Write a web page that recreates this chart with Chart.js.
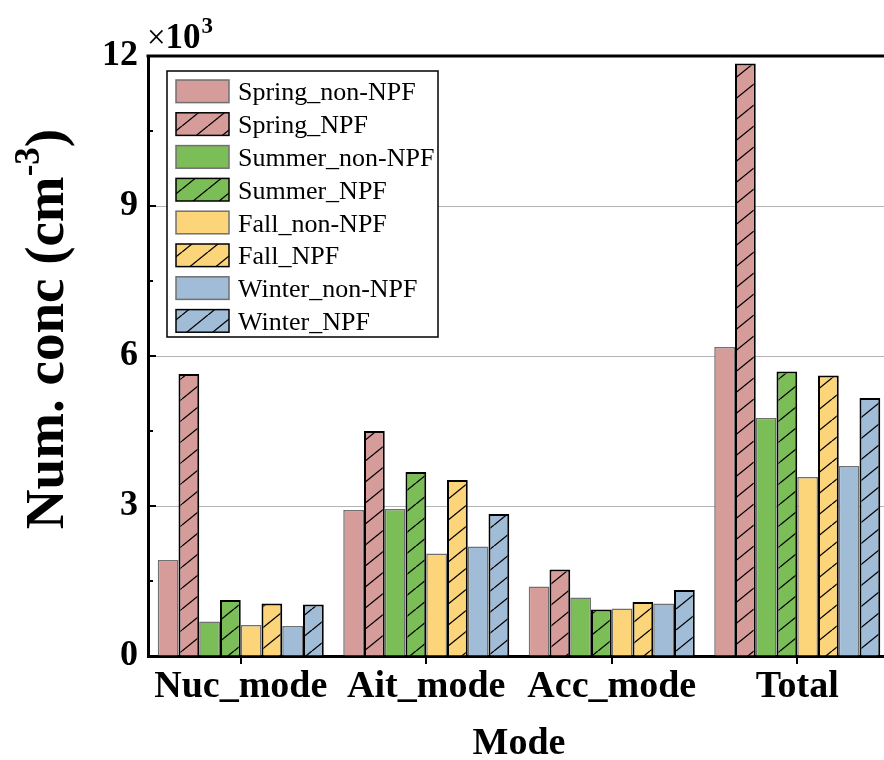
<!DOCTYPE html>
<html>
<head>
<meta charset="utf-8">
<script src="https://cdn.jsdelivr.net/npm/chart.js@4/dist/chart.umd.min.js"></script>
<style>
html,body{margin:0;padding:0;background:#fff;overflow:hidden;width:884px;height:760px}
canvas{display:block}
</style>
</head>
<body>
<canvas id="c" width="896" height="760"></canvas>
<script>
// ---- data (values in units of 10^3 cm^-3) ----
const categories = ['Nuc_mode', 'Ait_mode', 'Acc_mode', 'Total'];
const seriesNames = ['Spring_non-NPF', 'Spring_NPF', 'Summer_non-NPF', 'Summer_NPF',
                     'Fall_non-NPF', 'Fall_NPF', 'Winter_non-NPF', 'Winter_NPF'];
const springNonNPF = [1.92, 2.92, 1.39, 6.18];
const springNPF    = [5.64, 4.50, 1.73, 11.85];
const summerNonNPF = [0.69, 2.94, 1.17, 4.76];
const summerNPF    = [1.12, 3.68, 0.93, 5.69];
const fallNonNPF   = [0.62, 2.05, 0.95, 3.58];
const fallNPF      = [1.05, 3.52, 1.08, 5.61];
const winterNonNPF = [0.60, 2.19, 1.05, 3.80];
const winterNPF    = [1.03, 2.84, 1.32, 5.16];
const yTickValues  = [0, 3, 6, 9, 12];
const xTitle = 'Mode';

const seriesValues = [springNonNPF, springNPF, summerNonNPF, summerNPF,
                      fallNonNPF, fallNPF, winterNonNPF, winterNPF];
const seasonColors = ['#D69C9A', '#7BBE58', '#FCD57B', '#A1BCD7'];

function makeHatch(color) {
  const w = 26, h = 21;
  const c = document.createElement('canvas');
  c.width = w; c.height = h;
  const g = c.getContext('2d');
  g.fillStyle = color;
  g.fillRect(0, 0, w, h);
  g.strokeStyle = '#000';
  g.lineWidth = 1.3;
  for (const dx of [-w, 0, w]) {
    g.beginPath();
    g.moveTo(dx, h);
    g.lineTo(dx + w, 0);
    g.stroke();
  }
  return g.createPattern(c, 'repeat');
}

const datasets = seriesNames.map((name, i) => {
  const color = seasonColors[Math.floor(i / 2)];
  const hatched = i % 2 === 1;
  return {
    label: name,
    data: seriesValues[i],
    backgroundColor: hatched ? makeHatch(color) : color,
    borderColor: hatched ? '#000' : '#707070',
    borderWidth: hatched ? 2 : 1.5,
    borderSkipped: 'bottom'
  };
});

const SERIF = '"Liberation Serif", "Times New Roman", serif';

const decorPlugin = {
  id: 'decor',
  afterDraw(chart) {
    const ctx = chart.ctx;
    const a = chart.chartArea;
    const y = chart.scales.y;
    ctx.save();
    // top border
    ctx.strokeStyle = '#000';
    ctx.lineWidth = 3;
    ctx.beginPath();
    ctx.moveTo(a.left - 1.5, a.top);
    ctx.lineTo(chart.width, a.top);
    ctx.stroke();
    // inward ticks on left axis (major + minor)
    ctx.lineWidth = 2;
    for (let v = 0; v <= 12; v += 1.5) {
      const py = Math.round(y.getPixelForValue(v));
      const major = yTickValues.includes(v);
      ctx.beginPath();
      ctx.moveTo(a.left, py);
      ctx.lineTo(a.left + (major ? 8 : 5), py);
      ctx.stroke();
    }
    // x10^3 multiplier
    ctx.fillStyle = '#000';
    ctx.textBaseline = 'alphabetic';
    ctx.textAlign = 'left';
    let x = 147;
    ctx.font = '33px ' + SERIF;
    ctx.fillText('\u00D7', x, 48);
    x += ctx.measureText('\u00D7').width;
    ctx.font = 'bold 35px ' + SERIF;
    ctx.fillText('10', x, 48);
    x += ctx.measureText('10').width;
    ctx.font = 'bold 23px ' + SERIF;
    ctx.fillText('3', x + 1, 33);

    // y-axis title with superscript
    const parts = [
      {t: 'Num. conc (cm', f: 'bold 55px ' + SERIF, dy: 0},
      {t: '-3', f: 'bold 35px ' + SERIF, dy: -24},
      {t: ')', f: 'bold 55px ' + SERIF, dy: 0}
    ];
    let total = 0;
    for (const p of parts) { ctx.font = p.f; p.w = ctx.measureText(p.t).width; total += p.w; }
    ctx.translate(63, 329);
    ctx.rotate(-Math.PI / 2);
    let sx = -total / 2;
    for (const p of parts) {
      ctx.font = p.f;
      ctx.fillText(p.t, sx, p.dy);
      sx += p.w;
    }
    ctx.restore();

    // legend
    ctx.save();
    ctx.fillStyle = '#fff';
    ctx.fillRect(167, 71, 271, 266);
    ctx.strokeStyle = '#000';
    ctx.lineWidth = 1.5;
    ctx.strokeRect(167, 71, 271, 266);
    chart.data.datasets.forEach((ds, i) => {
      const cy = 91.3 + i * 32.8;
      ctx.fillStyle = ds.backgroundColor;
      ctx.fillRect(176, cy - 11.3, 53, 22.6);
      ctx.strokeStyle = ds.borderColor;
      ctx.lineWidth = 1.5;
      ctx.strokeRect(176, cy - 11.3, 53, 22.6);
      ctx.fillStyle = '#000';
      ctx.font = '26px ' + SERIF;
      ctx.textBaseline = 'alphabetic';
      ctx.textAlign = 'left';
      ctx.fillText(ds.label, 238, cy + 9);
    });
    ctx.restore();
  }
};

new Chart(document.getElementById('c'), {
  type: 'bar',
  data: { labels: categories, datasets },
  options: {
    responsive: false,
    animation: false,
    devicePixelRatio: 1,
    layout: { padding: { left: 0, right: 6, top: 56, bottom: 0 } },
    datasets: { bar: { categoryPercentage: 0.895, barPercentage: 1.0 } },
    plugins: { legend: { display: false }, tooltip: { enabled: false }, title: { display: false } },
    scales: {
      x: {
        grid: { display: true, drawOnChartArea: false, offset: false, color: '#000', lineWidth: 2, tickLength: 8 },
        border: { color: '#000', width: 3 },
        ticks: { color: '#000', font: { family: SERIF, weight: 'bold', size: 38 }, padding: 0, maxRotation: 0, autoSkip: false },
        title: { display: true, text: xTitle, color: '#000', font: { family: SERIF, weight: 'bold', size: 38 }, padding: { top: 0, bottom: -7 } },
        afterFit: s => { s.height = 104; }
      },
      y: {
        min: 0, max: 12,
        afterBuildTicks: s => { s.ticks = yTickValues.map(v => ({ value: v })); },
        ticks: { color: '#000', font: { family: SERIF, weight: 'bold', size: 36 }, padding: 10 },
        grid: { color: '#b4b4b4', lineWidth: 1, drawTicks: false },
        border: { color: '#000', width: 3 },
        afterFit: s => { s.width = 148; }
      }
    }
  },
  plugins: [decorPlugin]
});
</script>
</body>
</html>
